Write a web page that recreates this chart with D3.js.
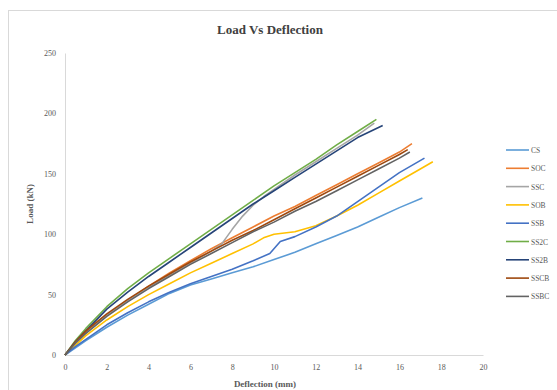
<!DOCTYPE html>
<html><head><meta charset="utf-8">
<script src="https://cdn.jsdelivr.net/npm/d3@7"></script>
<style>body{margin:0;background:#fff}svg{display:block}</style>
</head><body>
<script>
const seriesNames = ["CS","SOC","SSC","SOB","SSB","SS2C","SS2B","SSCB","SSBC"];
const seriesColors = ["#5B9BD5","#ED7D31","#A5A5A5","#FFC000","#4472C4","#70AD47","#264478","#9E480E","#636363"];
const xTicks = [0,2,4,6,8,10,12,14,16,18,20];
const yTicks = [0,50,100,150,200,250];

const CS   = [[0,0],[0.5,6],[1,12],[2,23],[3,33],[4,42],[5,51],[6,58],[7,63],[8,68],[9,73],[10,79],[11,85],[12,92],[13,99],[14,106],[15,114],[16,122],[17.1,130]];
const SOC  = [[0,0],[0.5,10],[1,19],[2,33],[3,45],[4,57],[5,68],[6,78],[7,88],[8,97],[9,106],[10,115],[11,123],[12,132],[13,141],[14,150],[15,159],[16,168],[16.6,175]];
const SSC  = [[0,0],[0.5,9],[1,18],[2,33],[3,45],[4,56],[5,66],[6,76],[7,86],[7.5,92],[8,104],[8.5,115],[9,124],[9.5,131],[10,137],[11,149],[12,160],[13,171],[14,182],[14.8,192]];
const SOB  = [[0,0],[0.5,8],[1,16],[2,29],[3,40],[4,50],[5,59],[6,68],[7,76],[8,84],[9,92],[9.5,97],[10,100],[11,102],[12,107],[13,115],[14,124],[15,134],[16,144],[17,154],[17.6,160]];
const SSB  = [[0,0],[0.5,7],[1,13],[2,25],[3,35],[4,44],[5,52],[6,59],[7,65],[8,71],[9,78],[9.8,84],[10.3,94],[11,98],[12,106],[13,115],[14,127],[15,139],[16,151],[17.2,163]];
const SS2C = [[0,0],[0.5,12],[1,22],[2,40],[3,55],[4,68],[5,80],[6,92],[7,104],[8,116],[9,128],[10,140],[11,151],[12,162],[13,174],[14,185],[14.9,195]];
const SS2B = [[0,0],[0.5,11],[1,20],[2,38],[3,52],[4,65],[5,77],[6,89],[7,101],[8,113],[9,125],[10,136],[11,147],[12,158],[13,169],[14,180],[15.2,190]];
const SSCB = [[0,0],[0.5,11],[1,20],[2,34],[3,46],[4,57],[5,67],[6,77],[7,86],[8,95],[9,103],[10,112],[11,121],[12,130],[13,139],[14,148],[15,157],[16,166],[16.4,170]];
const SSBC = [[0,0],[0.5,10],[1,18],[2,32],[3,44],[4,55],[5,65],[6,75],[7,84],[8,93],[9,102],[10,110],[11,119],[12,127],[13,136],[14,145],[15,154],[16,163],[16.5,168]];
const seriesData = [CS,SOC,SSC,SOB,SSB,SS2C,SS2B,SSCB,SSBC];

const W = 557, H = 390;
const svg = d3.select("body").append("svg").attr("width",W).attr("height",H);
svg.append("rect").attr("x",8.5).attr("y",10.5).attr("width",W-8).attr("height",H-10)
  .attr("fill","#fff").attr("stroke","#d9d9d9");

const x = d3.scaleLinear().domain([0,20]).range([65,483]);
const y = d3.scaleLinear().domain([0,250]).range([355,53]);

svg.append("text").attr("x",270).attr("y",34).attr("text-anchor","middle")
  .attr("font-family","Liberation Serif").attr("font-weight","bold").attr("font-size",13)
  .attr("fill","#404040").text("Load Vs Deflection");

const xAxis = svg.append("g").attr("transform","translate(0,355)")
  .call(d3.axisBottom(x).tickValues(xTicks).tickSize(0).tickPadding(9));
const yAxis = svg.append("g").attr("transform","translate(65,0)")
  .call(d3.axisLeft(y).tickValues(yTicks).tickSize(0).tickPadding(9));
[xAxis,yAxis].forEach(g=>{
  g.select(".domain").attr("stroke","#d9d9d9");
  g.selectAll("text").attr("font-family","Liberation Serif").attr("font-size",8).attr("fill","#595959");
});
yAxis.select(".domain").attr("stroke","#d9d9d9");

svg.append("text").attr("transform","translate(33,204) rotate(-90)").attr("text-anchor","middle")
  .attr("font-family","Liberation Serif").attr("font-weight","bold").attr("font-size",9)
  .attr("fill","#595959").text("Load (kN)");
svg.append("text").attr("x",265).attr("y",387).attr("text-anchor","middle")
  .attr("font-family","Liberation Serif").attr("font-weight","bold").attr("font-size",9)
  .attr("fill","#595959").text("Deflection (mm)");

const line = d3.line().x(d=>x(d[0])).y(d=>y(d[1]));
seriesData.forEach((s,i)=>{
  svg.append("path").datum(s).attr("d",line).attr("fill","none")
    .attr("stroke",seriesColors[i]).attr("stroke-width",1.6).attr("stroke-linejoin","round");
});

const leg = svg.append("g");
seriesNames.forEach((n,i)=>{
  const yy = 150 + i*18.3;
  leg.append("line").attr("x1",506).attr("x2",529).attr("y1",yy).attr("y2",yy)
    .attr("stroke",seriesColors[i]).attr("stroke-width",1.6);
  leg.append("text").attr("x",531).attr("y",yy+3).attr("font-family","Liberation Serif")
    .attr("font-size",7.5).attr("fill","#595959").text(n);
});
</script>
</body></html>
